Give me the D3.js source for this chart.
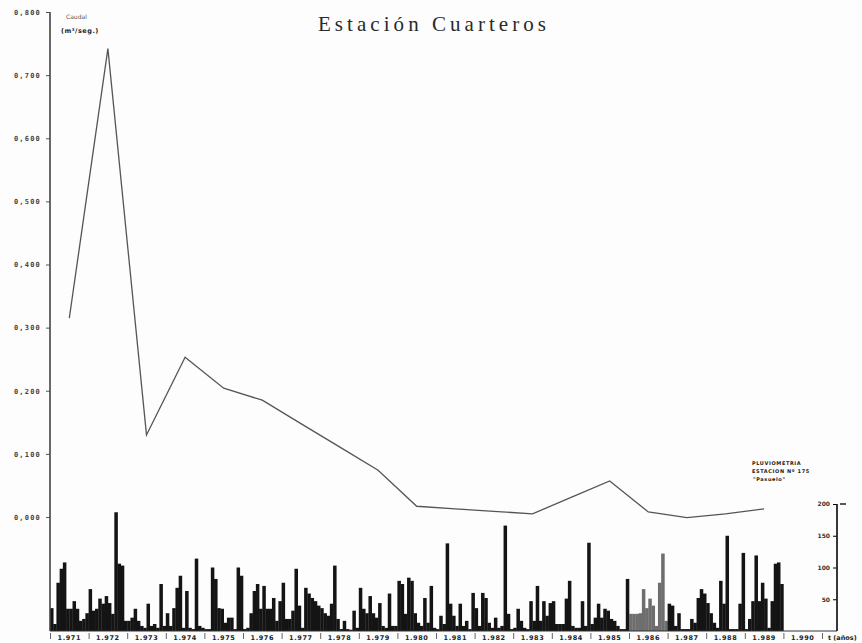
<!DOCTYPE html>
<html>
<head>
<meta charset="utf-8">
<script src="https://cdn.jsdelivr.net/npm/d3@7"></script>
<style>
  body { margin: 0; background: #fdfdfd; }
  svg text { fill: #222; }
  .lbl { font-family: "DejaVu Sans", sans-serif; font-weight: bold; }
</style>
</head>
<body>
<svg id="chart" width="862" height="643"></svg>
<script>
// caudal medio anual (m3/seg) - Estacion Cuarteros
var years = [1971, 1972, 1973, 1974, 1975, 1976, 1977, 1978, 1979, 1980,
             1981, 1982, 1983, 1984, 1985, 1986, 1987, 1988, 1989];
var caudal = [0.315, 0.742, 0.130, 0.253, 0.204, 0.185, 0.148, 0.111, 0.074, 0.017,
              0.013, 0.009, 0.005, 0.031, 0.057, 0.008, -0.001, 0.005, 0.013];

// pluviometria mensual (mm), una fila por año
var pluvio = [
  [36, 11, 76, 98, 108, 35, 35, 47, 35, 16, 19, 28],
  [66, 32, 35, 51, 43, 55, 44, 27, 187, 106, 103, 16],
  [16, 21, 35, 16, 8, 5, 43, 8, 11, 5, 74, 8],
  [28, 8, 36, 68, 87, 5, 63, 5, 3, 114, 8, 5],
  [3, 3, 100, 82, 36, 35, 13, 21, 21, 3, 100, 87],
  [3, 5, 28, 63, 74, 35, 71, 35, 35, 52, 16, 47],
  [76, 19, 19, 32, 98, 40, 5, 68, 59, 52, 47, 40],
  [36, 28, 24, 43, 103, 19, 3, 16, 3, 2, 32, 5],
  [68, 35, 28, 55, 28, 21, 44, 8, 5, 59, 8, 8],
  [79, 74, 27, 84, 79, 28, 13, 8, 52, 13, 71, 5],
  [3, 24, 11, 138, 43, 24, 8, 43, 8, 16, 3, 60],
  [36, 8, 60, 52, 13, 5, 21, 5, 8, 166, 27, 3],
  [5, 35, 16, 5, 3, 47, 16, 71, 16, 47, 24, 44],
  [47, 11, 11, 11, 51, 79, 8, 5, 5, 47, 8, 139],
  [11, 21, 43, 21, 35, 32, 19, 16, 8, 3, 3, 82],
  [27, 27, 27, 28, 66, 36, 51, 40, 8, 76, 122, 16],
  [43, 40, 8, 28, 3, 3, 3, 19, 13, 52, 66, 59],
  [44, 28, 13, 5, 79, 43, 150, 3, 3, 3, 43, 123],
  [3, 19, 47, 119, 47, 76, 51, 5, 47, 106, 108, 74]
];
var greyYears = [1986];

var yearTicks = [1971, 1972, 1973, 1974, 1975, 1976, 1977, 1978, 1979, 1980, 1981,
                 1982, 1983, 1984, 1985, 1986, 1987, 1988, 1989, 1990, 1991];
var caudalTicks = [0, 0.1, 0.2, 0.3, 0.4, 0.5, 0.6, 0.7, 0.8];
var pluvioTicks = [50, 100, 150, 200];

var es = d3.formatLocale({decimal: ",", thousands: ".", grouping: [3], currency: ["", "€"]});
var fmtQ = es.format(".3f");
var fmtY = es.format(",");

var svg = d3.select("#chart");

var x = d3.scaleLinear().domain([1971, 1991]).range([50, 822]);
var yQ = d3.scaleLinear().domain([0, 0.8]).range([517, 12]);
var yP = d3.scaleLinear().domain([0, 200]).range([631, 504]);

// title
svg.append("text")
  .attr("x", 318).attr("y", 31)
  .attr("textLength", 228).attr("lengthAdjust", "spacing")
  .style("font-family", "'Liberation Serif', 'DejaVu Serif', serif")
  .style("font-size", "21px")
  .style("fill", "#2a2a2a")
  .text("Estación Cuarteros");

// monthly rain bars
var months = [];
pluvio.forEach(function(row, i) {
  row.forEach(function(v, m) {
    months.push({year: years[i], m: m, v: v});
  });
});
var bw = x(1971 + 1 / 12) - x(1971);

svg.append("g")
  .selectAll("rect")
  .data(months)
  .enter().append("rect")
  .attr("x", function(d) { return x(d.year + d.m / 12); })
  .attr("y", function(d) { return yP(d.v); })
  .attr("width", bw + 0.3)
  .attr("height", function(d) { return yP(0) - yP(d.v); })
  .style("fill", function(d) { return greyYears.indexOf(d.year) >= 0 ? "#6e6e6e" : "#141414"; });

// baseline
svg.append("line")
  .attr("x1", x(1971)).attr("x2", 837)
  .attr("y1", yP(0)).attr("y2", yP(0))
  .style("stroke", "#333").style("stroke-width", 1);

// caudal line
var line = d3.line()
  .x(function(d, i) { return x(years[i] + 0.5); })
  .y(function(d) { return yQ(d); });

svg.append("path")
  .datum(caudal)
  .attr("d", line)
  .style("fill", "none")
  .style("stroke", "#555")
  .style("stroke-width", 1.3);

// left axis
var gL = svg.append("g")
  .attr("transform", "translate(50,0)")
  .call(d3.axisLeft(yQ).tickValues(caudalTicks).tickSize(4).tickPadding(5).tickFormat(fmtQ));
gL.select(".domain").remove();
gL.selectAll(".tick line").style("stroke", "#555");
gL.selectAll(".tick text")
  .style("font-family", "'DejaVu Sans Mono', monospace")
  .style("font-size", "7px").style("font-weight", "bold")
  .style("letter-spacing", "1.2px").style("fill", "#444");
svg.append("line")
  .attr("x1", 50).attr("x2", 50)
  .attr("y1", yQ(0.8)).attr("y2", yP(0))
  .style("stroke", "#444").style("stroke-width", 1.6);

svg.append("text").attr("class", "lbl")
  .attr("x", 66).attr("y", 19)
  .style("font-size", "6px").style("font-weight", "normal").style("fill", "#555")
  .text("Caudal");
svg.append("text").attr("class", "lbl")
  .attr("x", 61).attr("y", 33)
  .style("font-size", "6.5px").style("letter-spacing", "0.5px")
  .text("(m³/seg.)");

// bottom axis: year separators and labels
var gB = svg.append("g")
  .attr("transform", "translate(0," + (yP(0) + 2) + ")")
  .call(d3.axisBottom(x).tickValues(yearTicks).tickSize(6).tickFormat(""));
gB.select(".domain").remove();
gB.selectAll(".tick line").style("stroke", "#666");

svg.append("g")
  .selectAll("text")
  .data(yearTicks.slice(0, 20))
  .enter().append("text")
  .attr("class", "lbl")
  .attr("x", function(d) { return x(d + 0.5); })
  .attr("y", 640)
  .attr("text-anchor", "middle")
  .style("font-size", "6.5px").style("letter-spacing", "0.6px")
  .text(function(d) { return fmtY(d); });

svg.append("text").attr("class", "lbl")
  .attr("x", 828).attr("y", 640)
  .style("font-size", "6.5px")
  .text("t (años)");

// right axis (pluviometria)
var gR = svg.append("g")
  .attr("transform", "translate(837,0)")
  .call(d3.axisLeft(yP).tickValues(pluvioTicks).tickSize(4).tickPadding(3));
gR.select(".domain").remove();
gR.selectAll(".tick text")
  .style("font-family", "'DejaVu Sans', sans-serif")
  .style("font-size", "6px").style("font-weight", "bold").style("fill", "#333");
svg.append("line")
  .attr("x1", 837).attr("x2", 837)
  .attr("y1", yP(200)).attr("y2", yP(0))
  .style("stroke", "#222").style("stroke-width", 1.8);
svg.append("line")
  .attr("x1", 840).attr("x2", 846)
  .attr("y1", yP(200)).attr("y2", yP(200))
  .style("stroke", "#222").style("stroke-width", 1.5);

var pl = svg.append("g").attr("class", "lbl")
  .style("font-size", "5px").style("letter-spacing", "0.6px");
pl.append("text").attr("x", 752).attr("y", 465).text("PLUVIOMETRIA");
pl.append("text").attr("x", 752).attr("y", 473).text("ESTACION Nº 175");
pl.append("text").attr("x", 753).attr("y", 481).text("\"Pasuelo\"");
</script>
</body>
</html>
